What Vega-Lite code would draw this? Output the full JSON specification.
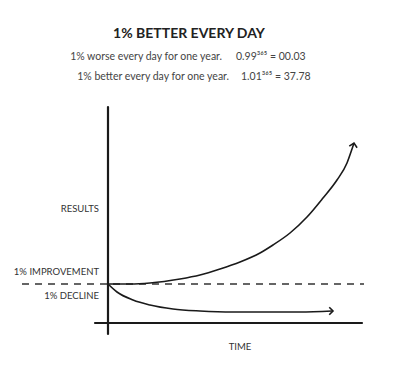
{
  "$schema": "https://vega.github.io/schema/vega-lite/v6.json",
  "width": 415,
  "height": 365,
  "padding": 0,
  "autosize": {"type": "none"},
  "background": "white",
  "config": {"view": {"stroke": null}, "text": {"font": "Lato"}},
  "datasets": {
    "growth": [
      {"t": 0, "r": 0}, {"t": 22, "r": 0}, {"t": 42, "r": 1}, {"t": 72, "r": 5},
      {"t": 92, "r": 9}, {"t": 112, "r": 15}, {"t": 132, "r": 22}, {"t": 152, "r": 31},
      {"t": 165, "r": 39}, {"t": 182, "r": 51}, {"t": 199, "r": 67}, {"t": 215, "r": 86},
      {"t": 229, "r": 104}, {"t": 239, "r": 121}, {"t": 244, "r": 135}, {"t": 246, "r": 141}
    ],
    "decline": [
      {"t": 0, "r": 0}, {"t": 9, "r": -8}, {"t": 25, "r": -16}, {"t": 42, "r": -21},
      {"t": 65, "r": -25}, {"t": 92, "r": -27}, {"t": 125, "r": -28}, {"t": 159, "r": -28},
      {"t": 192, "r": -28}, {"t": 224, "r": -27}
    ],
    "axes": [
      {"name": "vertical", "t": 0, "t2": 0, "r": 177, "r2": -50},
      {"name": "horizontal", "t": -13, "t2": 254, "r": -39, "r2": -39}
    ],
    "baseline": [
      {"t": -86, "t2": 256, "r": 0, "r2": 0}
    ],
    "titleText": [{"text": "1% BETTER EVERY DAY", "t": 81, "r": 250}],
    "lineLeft": [
      {"text": "1% worse every day for one year.", "t": 114, "r": 227},
      {"text": "1% better every day for one year.", "t": 121, "r": 207}
    ],
    "lineRight": [
      {"text": "0.99³⁶⁵ = 00.03", "t": 128, "r": 227},
      {"text": "1.01³⁶⁵ = 37.78", "t": 133, "r": 207}
    ],
    "labels": [
      {"text": "RESULTS", "t": -9, "r": 75},
      {"text": "1% IMPROVEMENT", "t": -9, "r": 12},
      {"text": "1% DECLINE", "t": -9, "r": -12}
    ],
    "timeLabel": [{"text": "TIME", "t": 132, "r": -63}],
    "growthTip": [{"t": 246, "r": 141}],
    "declineTip": [{"t": 225, "r": -27}]
  },
  "encoding": {
    "x": {"field": "t", "type": "quantitative", "scale": {"domain": [-108, 307], "nice": false, "zero": false}, "axis": null},
    "y": {"field": "r", "type": "quantitative", "scale": {"domain": [-81, 284], "nice": false, "zero": false}, "axis": null}
  },
  "layer": [
    {
      "data": {"name": "baseline"},
      "mark": {"type": "rule", "stroke": "#333", "strokeWidth": 1.6, "strokeDash": [7, 6]},
      "encoding": {"x2": {"field": "t2"}, "y2": {"field": "r2"}}
    },
    {
      "data": {"name": "axes"},
      "mark": {"type": "rule", "stroke": "#1a1a1a", "strokeWidth": 2.2, "strokeCap": "round"},
      "encoding": {"x2": {"field": "t2"}, "y2": {"field": "r2"}}
    },
    {
      "data": {"name": "growth"},
      "mark": {"type": "line", "stroke": "#1a1a1a", "strokeWidth": 1.6, "interpolate": "monotone"},
      "encoding": {}
    },
    {
      "data": {"name": "decline"},
      "mark": {"type": "line", "stroke": "#1a1a1a", "strokeWidth": 1.6, "interpolate": "monotone"},
      "encoding": {}
    },
    {
      "data": {"name": "growthTip"},
      "mark": {"type": "point", "shape": "M-1,1L0,0L1,1", "filled": false, "stroke": "#1a1a1a", "strokeWidth": 1.6, "size": 64, "angle": 12, "opacity": 1},
      "encoding": {}
    },
    {
      "data": {"name": "declineTip"},
      "mark": {"type": "point", "shape": "M-1,1L0,0L1,1", "filled": false, "stroke": "#1a1a1a", "strokeWidth": 1.6, "size": 56, "angle": 90, "opacity": 1},
      "encoding": {}
    },
    {
      "data": {"name": "titleText"},
      "mark": {"type": "text", "fontSize": 14, "fontWeight": "bold", "fill": "#222", "align": "center", "baseline": "middle"},
      "encoding": {"text": {"field": "text"}}
    },
    {
      "data": {"name": "lineLeft"},
      "mark": {"type": "text", "fontSize": 10.5, "fill": "#444", "align": "right", "baseline": "middle"},
      "encoding": {"text": {"field": "text"}}
    },
    {
      "data": {"name": "lineRight"},
      "mark": {"type": "text", "fontSize": 10.5, "fill": "#444", "align": "left", "baseline": "middle"},
      "encoding": {"text": {"field": "text"}}
    },
    {
      "data": {"name": "labels"},
      "mark": {"type": "text", "fontSize": 9.5, "fill": "#333", "align": "right", "baseline": "middle"},
      "encoding": {"text": {"field": "text"}}
    },
    {
      "data": {"name": "timeLabel"},
      "mark": {"type": "text", "fontSize": 9.5, "fill": "#333", "align": "center", "baseline": "middle"},
      "encoding": {"text": {"field": "text"}}
    }
  ]
}
